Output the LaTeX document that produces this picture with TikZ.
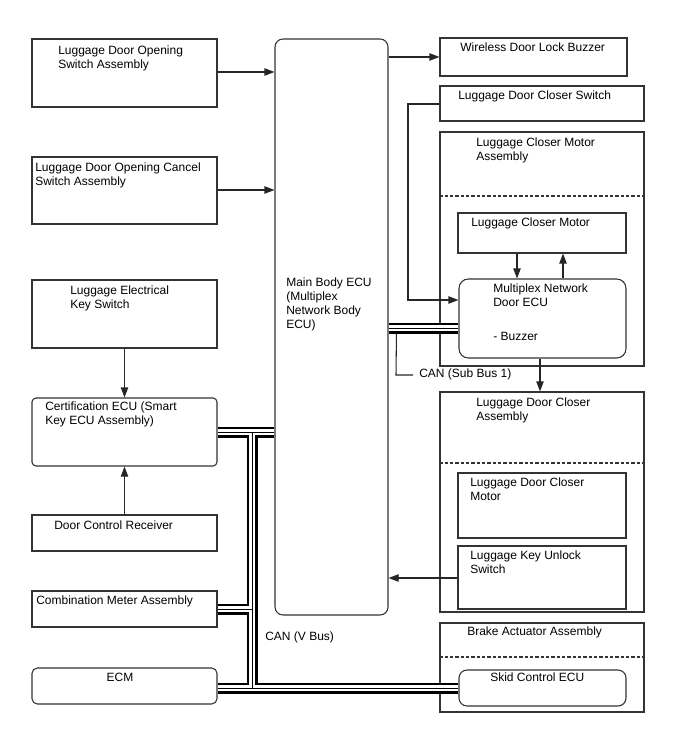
\documentclass[tikz,border=0pt]{standalone}
\usepackage{fontspec}
\setmainfont{Liberation Sans}
\usetikzlibrary{arrows.meta,fit,backgrounds}
\pgfdeclarelayer{bglayer}
\pgfdeclarelayer{buslayer}
\pgfsetlayers{bglayer,buslayer,main}
\begin{document}
\begin{tikzpicture}[x=0.75pt,y=-0.75pt,
 box/.style={draw=black!80, line width=0.8pt, fill=white, inner sep=0pt},
 cbox/.style={draw=black!80, line width=0.8pt, inner sep=0pt},
 txt/.style={anchor=north west, align=left, inner sep=0pt, font=\fontsize{9}{10.5}\selectfont},
 arr/.style={draw=black!85, line width=0.8pt, -{Triangle[length=7.5pt,width=5.5pt]}},
 wire/.style={draw=black!85, line width=0.8pt},
 busA/.style={line width=8.25pt, black},
 busB/.style={line width=5.2pt, white},
 busC/.style={line width=0.7pt, black},
 sep/.style={draw=black!80, line width=0.8pt, dash pattern=on 2.5pt off 1.5pt}]
\useasboundingbox (0,0) rectangle (688,755);

% container boxes (below buses)
\begin{pgfonlayer}{bglayer}
\node[cbox, fit={(440,132)(644,366)}] (lcma) {};
\node[cbox, fit={(440,392)(644,612)}] (ldca) {};
\node[cbox, fit={(440,623)(644,712)}] (baa) {};
\draw[sep] (lcma.west |- 0,196) -- (lcma.east |- 0,196);
\draw[sep] (ldca.west |- 0,463) -- (ldca.east |- 0,463);
\draw[sep] (baa.west |- 0,657) -- (baa.east |- 0,657);
\end{pgfonlayer}

% boxes
\node[box, fit={(32,39)(217,107)}] (ldos) {};
\node[box, fit={(32,157)(217,224)}] (ldoc) {};
\node[box, fit={(32,280)(217,348)}] (leks) {};
\node[box, rounded corners=3pt, fit={(32,398)(217,466)}] (cert) {};
\node[box, fit={(32,515)(217,551)}] (dcr) {};
\node[box, fit={(32,591)(217,627)}] (cma) {};
\node[box, rounded corners=4pt, fit={(32,668)(217,704)}] (ecm) {};
\node[box, rounded corners=6pt, fit={(275,39)(388,615)}] (main) {};
\node[box, fit={(440,38)(627,76)}] (wdlb) {};
\node[box, fit={(440,86)(644,121)}] (ldcs) {};
\node[box, fit={(458,213)(626,253)}] (lcm) {};
\node[box, rounded corners=7pt, fit={(459,279)(626,358)}] (mnde) {};
\node[box, fit={(458,473)(626,538)}] (ldcm) {};
\node[box, fit={(458,546)(626,609)}] (lkus) {};
\node[box, rounded corners=6pt, fit={(459,670)(626,706)}] (sce) {};

% texts
\node[txt] (t1) at (58,46) {Luggage Door Opening\\Switch Assembly};
\node[txt] (t2) at (35,163) {Luggage Door Opening Cancel\\Switch Assembly};
\node[txt] (t3) at (70,286) {Luggage Electrical\\Key Switch};
\node[txt] (t4) at (45,402) {Certification ECU (Smart\\Key ECU Assembly)};
\node[txt] (t5) at (54,521) {Door Control Receiver};
\node[txt] (t6) at (36,596) {Combination Meter Assembly};
\node[txt, anchor=north] (t7) at (120,673) {ECM};
\node[txt] (t8) at (286,278) {Main Body ECU\\(Multiplex\\Network Body\\ECU)};
\node[txt] (t9) at (460,43) {Wireless Door Lock Buzzer};
\node[txt] (t10) at (458,91) {Luggage Door Closer Switch};
\node[txt] (t11) at (476,138) {Luggage Closer Motor\\Assembly};
\node[txt] (t12) at (471,218) {Luggage Closer Motor};
\node[txt] (t13) at (493,284) {Multiplex Network\\Door ECU};
\node[txt] (t14) at (493,332) {- Buzzer};
\node[txt] (t15) at (476,398) {Luggage Door Closer\\Assembly};
\node[txt] (t16) at (470,478) {Luggage Door Closer\\Motor};
\node[txt] (t17) at (470,551) {Luggage Key Unlock\\Switch};
\node[txt] (t18) at (467,627) {Brake Actuator Assembly};
\node[txt] (t19) at (490,673) {Skid Control ECU};
\node[txt] (t20) at (265,632) {CAN (V Bus)};
\node[txt] (t21) at (419,369) {CAN (Sub Bus 1)};

% buses
\coordinate (jtop) at (252,432);
\coordinate (jbot) at (252,688);
\coordinate (jcma) at (252,609);
\coordinate (subk) at (396,375);
\begin{pgfonlayer}{buslayer}
\draw[wire] (main.east |- 0,328) ++(8,0) -- (subk) -- ([xshift=-4.5pt]t21.west |- subk);
\foreach \s in {busA,busB,busC} {
  \draw[\s] (cert.east |- jtop) -- (main.west |- jtop);
  \draw[\s] (jtop) -- (jbot);
  \draw[\s] (cma.east |- jcma) -- (jcma);
  \draw[\s] (ecm.east |- jbot) -- (sce.west |- jbot);
  \draw[\s] (main.east |- 0,328) -- (mnde.west |- 0,328);
}
\end{pgfonlayer}

% arrows
\draw[arr] (ldos.east |- 0,72) -- (main.west |- 0,72);
\draw[arr] (ldoc.east |- 0,190) -- (main.west |- 0,190);
\draw[arr] (leks.south) -- (cert.north);
\draw[arr] (dcr.north) -- (cert.south);
\draw[arr] (main.east |- 0,57) -- (wdlb.west |- 0,57);
\draw[arr] (ldcs.west |- 0,104) -- (408,104) -- (408,300) -- (mnde.west |- 0,300);
\draw[arr] (lcm.south -| 517,0) -- (mnde.north -| 517,0);
\draw[arr] (mnde.north -| 563,0) -- (lcm.south -| 563,0);
\draw[arr] (mnde.south -| 540,0) -- (ldca.north -| 540,0);
\draw[arr] (lkus.west |- 0,578) -- (main.east |- 0,578);
\end{tikzpicture}
\end{document}
